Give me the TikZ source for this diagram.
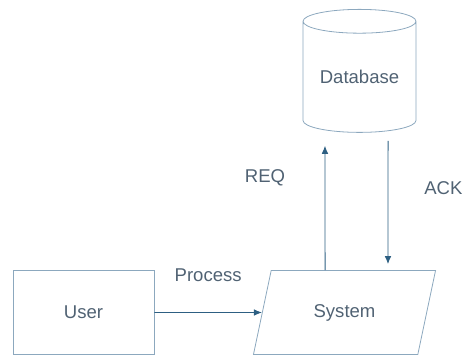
\documentclass[tikz,border=0pt]{standalone}
\usepackage{fontspec}
\setmainfont{Liberation Sans}
\usepackage{tikz}
\usetikzlibrary{arrows.meta,shapes.geometric}
\usetikzlibrary{positioning}
\tikzset{>={Latex[length=6pt,width=5pt]}}
\definecolor{shapeline}{RGB}{140,168,190}
\definecolor{flowline}{RGB}{45,95,130}
\definecolor{labeltext}{RGB}{80,98,115}

\begin{document}
\begin{tikzpicture}[x=0.75pt, y=-0.75pt, font=\fontsize{13.9}{16}\selectfont, text=labeltext,
		box/.style={rectangle, draw=shapeline, line width=0.6pt, minimum width=105.75pt, minimum height=63pt},
		io/.style={trapezium, trapezium left angle=66, trapezium right angle=114, draw=shapeline, line width=0.6pt, trapezium stretches=true, minimum width=137.25pt, minimum height=63pt, inner sep=0pt},
		store/.style={cylinder, shape border rotate=90, aspect=0.3, draw=shapeline, line width=0.6pt, minimum width=84.75pt, minimum height=92.25pt, inner sep=0pt},
		flow/.style={->, draw=flowline, line width=0.7pt},
		node distance=195.75pt, on grid]
		\useasboundingbox (0,0) rectangle (464,356);
		\node[box] (user) at (83.5,312.5) {User};
		\node[io] (sys) [right=of user] {System};
		\node[store] (db) [above right=176.6pt and 11.25pt of sys] {Database};
		\draw[flow] (user) -- node[midway, yshift=27.75pt] {Process} (sys);
		\draw[flow] ([xshift=-14.6pt]sys.north) -- node[pos=0.74, xshift=-45pt] {REQ} ([xshift=-25.9pt, yshift=-9.75pt]db.south);
		\draw[flow] ([xshift=21.4pt, yshift=-6pt]db.south) -- node[pos=0.38, xshift=41.5pt] {ACK} ([xshift=32.6pt, yshift=4.5pt]sys.north);
	\end{tikzpicture}
\end{document}
